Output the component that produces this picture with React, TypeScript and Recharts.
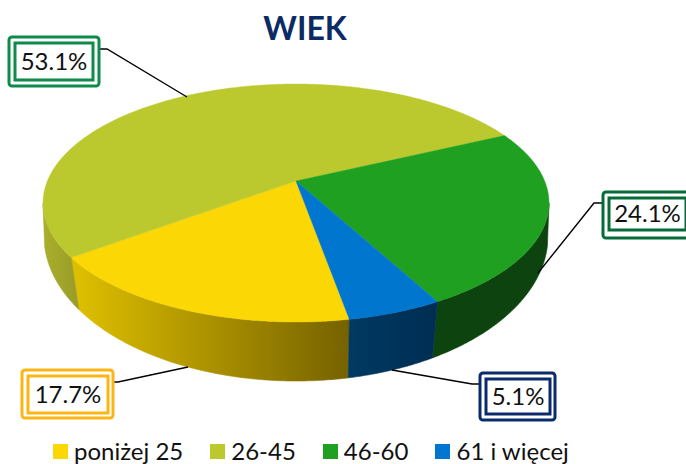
import { Legend, Pie, PieChart } from 'recharts';

const ageGroups = ['poniżej 25', '26-45', '46-60', '61 i więcej'];
const shares = [17.7, 53.1, 24.1, 5.1];
const topColors = ['#FAD705', '#BBC92F', '#1FA020', '#0076CE'];
const wallFrom = ['#DDBE00', '#A9AE2C', '#0D430F', '#003A62'];
const wallTo = ['#766200', '#989B28', '#0D430F', '#002E54'];
const boxColors = ['#FDB515', '#0E8A4A', '#056B38', '#0A2A6B'];

const rows = ageGroups.map((name, i) => ({ name, value: shares[i], fill: topColors[i] }));

// callout layout: outer box, inner box, leader line, one per slice
const callouts = [
  { outer: [22, 370, 91, 48], inner: [28, 376, 80, 37], line: '110,382 118,382 188,367' },
  { outer: [9, 37, 90, 49], inner: [15, 43, 78, 37], line: '96,49 107,49 187,97' },
  { outer: [603, 192, 100, 46], inner: [609, 198, 77, 32], line: '606,203 594,203 538,273' },
  { outer: [480, 373, 75, 47], inner: [486, 379, 64, 35], line: '483,384 472,384 392,370' },
];

const FONT = 'Lato, "Open Sans", sans-serif';

// tilted pie: top face ellipse, with the apex pushed back for perspective
const CX = 296;
const TOP = { cy: 203, rx: 253, ry: 119 };
const BOTTOM = { cy: 236, rx: 252, ry: 145 };
const TILT = -0.185;

function rim(screenDeg: number) {
  const t = (screenDeg * Math.PI) / 180;
  const s = Math.sin(t);
  const d = 1 + TILT * s;
  return {
    x: (Math.cos(t) * Math.sqrt(1 - TILT * TILT)) / d,
    y: (s + TILT) / d,
  };
}

// wall edges lean in a little towards the front of the lower rim
function lowerRim(p: { x: number; y: number }) {
  const phi = Math.atan2(p.y, p.x);
  const c = Math.cos(phi);
  const lean = (4 * Math.PI * c * c) / 180;
  const a = p.x > 0 ? phi + lean : phi - lean;
  return { x: CX + BOTTOM.rx * Math.cos(a), y: BOTTOM.cy + BOTTOM.ry * Math.sin(a) };
}

function sliceShape(props: any) {
  const { startAngle, endAngle, fill, index } = props;
  const from = -startAngle;
  const to = -endAngle;
  const steps = Math.max(2, Math.ceil(Math.abs(to - from) * 2));
  const pts = [];
  for (let i = 0; i <= steps; i++) pts.push(rim(from + ((to - from) * i) / steps));

  const top = pts.map((p) => `${CX + TOP.rx * p.x},${TOP.cy + TOP.ry * p.y}`);
  const apexY = TOP.cy + TOP.ry * TILT;
  const front = pts.filter((p) => p.y >= 0);
  const lower = front.map(lowerRim);
  const wall = [
    ...front.map((p) => `${CX + TOP.rx * p.x},${TOP.cy + TOP.ry * p.y}`),
    ...[...lower].reverse().map((p) => `${p.x},${p.y}`),
  ];
  const gradId = `wall-${index}`;
  const xs = lower.map((p) => p.x);

  return (
    <g>
      {front.length > 1 && (
        <>
          <defs>
            <linearGradient
              id={gradId}
              gradientUnits="userSpaceOnUse"
              x1={Math.min(...xs)}
              x2={Math.max(...xs)}
              y1={0}
              y2={0}
            >
              <stop offset="0%" stopColor={wallFrom[index]} />
              <stop offset="100%" stopColor={wallTo[index]} />
            </linearGradient>
          </defs>
          <polygon points={wall.join(' ')} fill={`url(#${gradId})`} stroke={`url(#${gradId})`} strokeWidth={0.6} />
        </>
      )}
      <polygon points={`${CX},${apexY} ${top.join(' ')}`} fill={fill} stroke={fill} strokeWidth={0.4} />
    </g>
  );
}

function calloutLabel(props: any) {
  const { index, value } = props;
  const c = callouts[index];
  const color = boxColors[index];
  return (
    <g>
      <polyline points={c.line} fill="none" stroke="#000" strokeWidth={1.4} />
      <rect x={c.outer[0]} y={c.outer[1]} width={c.outer[2]} height={c.outer[3]} rx={3} fill="#fff" stroke={color} strokeWidth={3} />
      <rect x={c.inner[0]} y={c.inner[1]} width={c.inner[2]} height={c.inner[3]} fill="#fff" stroke={color} strokeWidth={3} />
      <text
        x={c.inner[0] + c.inner[2] / 2}
        y={c.inner[1] + c.inner[3] / 2}
        dy="0.35em"
        textAnchor="middle"
        fontFamily={FONT}
        fontSize={24}
        fill="#111"
      >
        {`${Number(value).toFixed(1)}%`}
      </text>
    </g>
  );
}

function legendContent({ payload }: any) {
  return (
    <div style={{ display: 'flex', fontFamily: FONT, fontSize: 24, lineHeight: '24px', color: '#111' }}>
      {(payload || []).map((item: any) => (
        <div key={item.value} style={{ display: 'flex', alignItems: 'center', marginRight: 27 }}>
          <span style={{ width: 15, height: 15, background: item.color, marginRight: 6 }} />
          {item.value}
        </div>
      ))}
    </div>
  );
}

export default function App() {
  return (
    <div style={{ position: 'absolute', left: 0, top: 0, width: 686, height: 464 }}>
      <PieChart width={686} height={464} margin={{ top: 0, right: 0, bottom: 0, left: 0 }}>
        <text x={305} y={29} dy="0.35em" textAnchor="middle" fontFamily={FONT} fontSize={32} fontWeight={700} fill="#0C2A64">
          WIEK
        </text>
        <Pie
          data={rows}
          dataKey="value"
          nameKey="name"
          cx={CX}
          cy={203}
          outerRadius={119}
          startAngle={-79.9}
          endAngle={-439.9}
          stroke="none"
          shape={sliceShape}
          label={calloutLabel}
          labelLine={false}
          isAnimationActive={false}
        />
        <Legend
          content={legendContent}
          itemSorter={null}
          layout="horizontal"
          verticalAlign="bottom"
          align="left"
          wrapperStyle={{ left: 53, bottom: 1, width: 633 }}
        />
      </PieChart>
    </div>
  );
}
